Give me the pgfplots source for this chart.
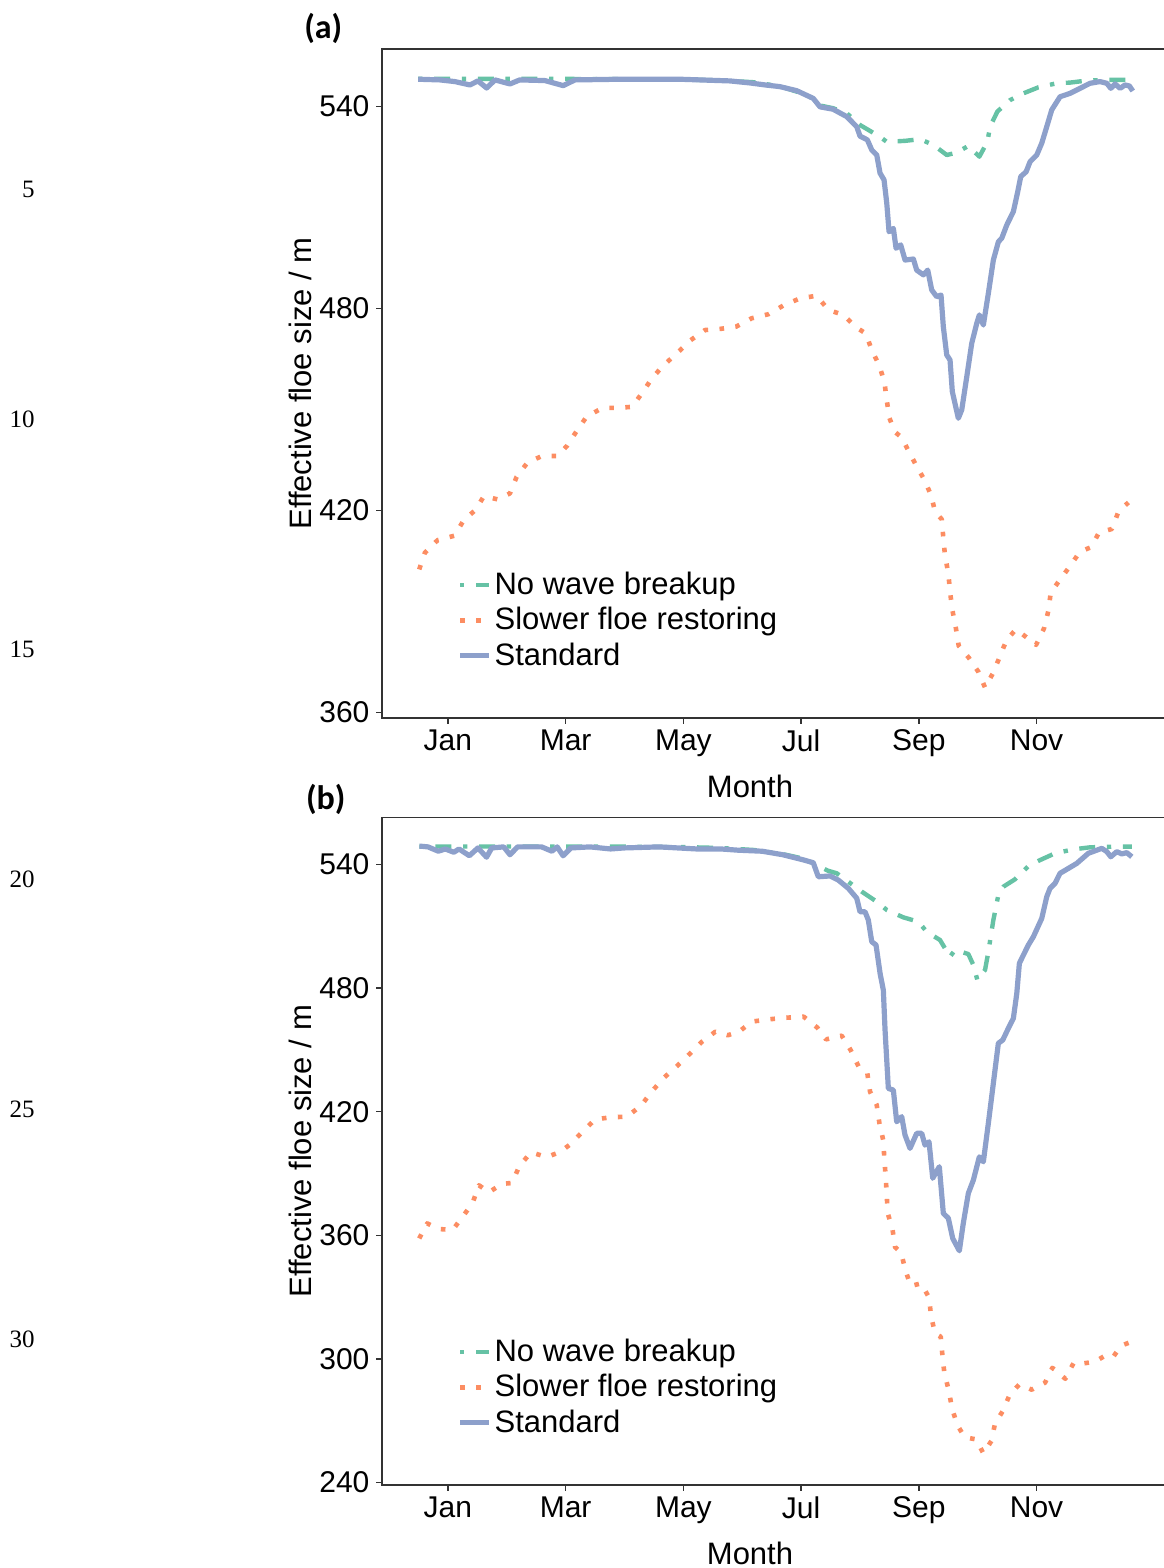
\documentclass[border=0pt]{standalone}
\usepackage{fontspec}
\setmainfont{Liberation Sans}
\newfontfamily\serifnum{Liberation Serif}
\newfontfamily\calib{Carlito}
\usepackage{pgfplots}
\pgfplotsset{compat=1.18}
\definecolor{cgreen}{HTML}{66C2A5}
\definecolor{corange}{HTML}{FC8D62}
\definecolor{cblue}{HTML}{8DA0CB}
\definecolor{spine}{HTML}{333333}
\newcommand\fsz{\fontsize{15}{18}\selectfont}
\newcommand\lsz{\fontsize{15.5}{18.5}\selectfont}
\newcommand\lstrut{\rule[-2pt]{0pt}{12pt}}
\pgfplotsset{
  panel/.style={
    scale only axis, width=393.5pt,
    xmin=-0.12, xmax=13.25,
    xtick={1,3,5,7,9,11}, xticklabels={Jan,Mar,May,Jul,Sep,Nov},
    axis line style={spine, line width=0.8pt},
    tick style={spine, line width=0.8pt},
    tick align=outside, major tick length=2.8pt, tick pos=left,
    /pgf/number format/assume math mode=true,
    tick label style={font=\fsz, text=black},
    yticklabel style={inner xsep=3.3pt},
    xticklabel style={inner ysep=2.7pt},
    label style={font=\lsz},
    xlabel=Month,
    xlabel style={at={(axis description cs:0.4676,0)}, anchor=base, yshift=-39.5pt},
    ylabel={Effective floe size / m},
    ylabel style={at={(axis description cs:-0.0902,0.5)}, anchor=base},
    title style={anchor=center, font=\calib\bfseries\fontsize{17}{20}\selectfont},
    legend cell align=left,
    legend image code/.code={\draw[#1] (0pt,0pt) -- (14.5pt,0pt);},
    every axis plot/.append style={line join=round},
  },
  gline/.style={cgreen, line width=2.2pt, dash pattern=on 2.2pt off 5.8pt on 8pt off 5.8pt},
  oline/.style={corange, line width=2.3pt, dash pattern=on 2.3pt off 5.7pt},
  bline/.style={cblue, line width=2.6pt},
}
\begin{document}
\begin{tikzpicture}
\useasboundingbox (0,0) rectangle (581.5pt,-784pt);
\foreach \n/\y in {5/189.5,10/419.5,15/649.5,20/879.5,25/1109.5,30/1339.5}
  \node[anchor=east, inner sep=0pt, font=\serifnum\fontsize{12.5}{15}\selectfont] at (17.5pt,{-\y*0.5pt}) {\n};

% ---------------- panel (a)
\begin{axis}[panel, at={(191pt,-359pt)}, anchor=south west, height=334.5pt,
  ymin=358.37, ymax=557.08, ytick={360,420,480,540},
  title={(a)}, title style={at={(axis description cs:-0.0746,1.0134)}},
  legend style={at={(axis description cs:0.0953,0.2182)}, anchor=north west, draw=none, fill=none,
    inner sep=0pt, row sep=4.8pt, column sep=1.5pt, font=\lsz, nodes={inner sep=0pt}},
]
\addplot[gline] coordinates {(0.495,548.2) (1.0,548.2) (2.0,548.2) (3.0,548.2) (4.0,548.1) (5.0,548.0) (5.6,547.8) (6.2,547.2) (6.641,546.0) (7.0,544.0) (7.207,542.4) (7.32,540.3) (7.542,539.5) (7.775,538.0) (8.001,534.5) (8.341,531.0) (8.455,529.5) (8.766,529.8) (9.021,530.3) (9.247,528.6) (9.474,525.6) (9.644,526.3) (9.841,528.3) (10.028,525.1) (10.164,529.5) (10.210,534.0) (10.334,538.5) (10.550,541.9) (10.776,543.9) (11.031,545.7) (11.343,546.9) (11.569,547.1) (11.853,547.7) (12.193,547.9) (12.419,547.9) (12.623,547.9)};
\addlegendentry{\lstrut No wave breakup}
\addplot[oline] coordinates {(0.512,402.5) (0.609,407.5) (0.825,411.2) (1.107,412.5) (1.272,417.2) (1.471,420.2) (1.612,424.3) (1.845,423.3) (2.054,425.1) (2.167,430.0) (2.354,434.3) (2.602,436.2) (2.864,436.2) (3.027,439.3) (3.187,443.6) (3.357,447.9) (3.629,450.5) (3.901,450.5) (4.127,450.8) (4.308,455.1) (4.478,459.6) (4.687,463.5) (4.903,466.9) (5.124,470.6) (5.367,473.6) (5.651,474.0) (5.894,474.6) (6.161,477.1) (6.443,478.3) (6.709,481.0) (6.981,483.0) (7.265,483.8) (7.462,479.6) (7.717,478.1) (7.945,474.3) (8.098,472.6) (8.200,467.7) (8.324,463.2) (8.414,458.3) (8.455,452.8) (8.499,447.5) (8.596,443.3) (8.709,441.7) (8.839,437.2) (8.952,433.5) (9.088,429.3) (9.202,424.8) (9.280,419.5) (9.389,417.4) (9.416,411.9) (9.445,406.5) (9.501,401.4) (9.530,395.9) (9.569,390.5) (9.627,385.3) (9.678,379.8) (9.848,376.3) (10.011,372.1) (10.125,367.4) (10.266,371.9) (10.380,376.8) (10.494,381.7) (10.652,384.7) (10.816,382.5) (10.992,380.1) (11.127,385.0) (11.200,390.2) (11.241,395.6) (11.387,399.2) (11.569,403.5) (11.739,407.8) (11.926,409.1) (12.062,413.5) (12.278,414.5) (12.390,419.6) (12.560,422.4)};
\addlegendentry{\lstrut Slower floe restoring}
\addplot[bline] coordinates {(0.495,548.1) (0.864,547.9) (1.119,547.4) (1.374,546.4) (1.51,547.6) (1.658,545.5) (1.80,547.9) (2.054,546.7) (2.22,547.9) (2.648,547.7) (2.959,546.2) (3.158,547.9) (3.923,548.1) (4.94,548.1) (5.28,547.9) (5.79,547.6) (6.13,547.0) (6.39,546.4) (6.641,545.9) (6.925,544.7) (7.207,542.4) (7.321,539.9) (7.542,539.2) (7.775,537.0) (7.945,534.0) (8.001,531.2) (8.125,530.1) (8.200,527.1) (8.285,525.6) (8.341,520.2) (8.409,518.2) (8.455,511.3) (8.494,502.8) (8.567,503.8) (8.613,497.9) (8.692,498.9) (8.766,494.4) (8.907,494.7) (8.964,491.4) (9.077,490.0) (9.151,491.4) (9.219,485.5) (9.304,483.5) (9.377,484.0) (9.416,474.6) (9.474,466.2) (9.530,464.7) (9.569,455.3) (9.627,450.8) (9.671,447.4) (9.729,449.9) (9.814,459.7) (9.899,469.7) (9.984,475.6) (10.028,478.1) (10.096,475.1) (10.181,484.5) (10.266,494.4) (10.351,499.8) (10.409,500.9) (10.494,504.8) (10.606,508.8) (10.674,514.2) (10.732,519.2) (10.822,520.6) (10.890,523.6) (11.003,525.6) (11.088,529.1) (11.173,534.0) (11.258,539.0) (11.399,542.9) (11.569,543.9) (11.739,545.4) (11.909,546.9) (12.079,547.4) (12.193,546.9) (12.261,545.4) (12.334,546.7) (12.419,545.4) (12.504,546.4) (12.577,546.1) (12.635,544.6)};
\addlegendentry{\lstrut Standard}
\end{axis}

% ---------------- panel (b)
\begin{axis}[panel, at={(191pt,-742.5pt)}, anchor=south west, height=333.75pt,
  ymin=238.84, ymax=562.76, ytick={240,300,360,420,480,540},
  title={(b)}, title style={at={(axis description cs:-0.0715,1.0098)}},
  legend style={at={(axis description cs:0.0953,0.2187)}, anchor=north west, draw=none, fill=none,
    inner sep=0pt, row sep=4.8pt, column sep=1.5pt, font=\lsz, nodes={inner sep=0pt}},
]
\addplot[gline] coordinates {(0.516,548.7) (1.0,548.7) (2.0,548.7) (3.0,548.6) (4.0,548.6) (5.0,548.4) (5.6,548.0) (6.2,547.0) (6.689,545.0) (7.039,542.8) (7.25,540.0) (7.45,537.0) (7.605,535.7) (7.802,531.6) (8.030,526.8) (8.285,521.9) (8.455,517.9) (8.737,514.3) (8.992,512.2) (9.134,507.3) (9.360,503.3) (9.530,495.2) (9.615,498.5) (9.841,496.5) (9.926,491.2) (9.994,483.9) (10.125,488.8) (10.181,497.6) (10.266,513.0) (10.351,525.2) (10.436,529.2) (10.635,532.8) (10.861,539.2) (11.060,542.1) (11.314,545.4) (11.625,547.3) (11.909,548.3) (12.305,548.6) (12.618,548.6)};
\addlegendentry{\lstrut No wave breakup}
\addplot[oline] coordinates {(0.512,358.5) (0.648,365.8) (0.835,363.1) (1.080,362.6) (1.260,369.4) (1.420,375.8) (1.527,384.3) (1.697,380.9) (1.918,385.0) (2.088,385.4) (2.212,393.5) (2.410,400.3) (2.677,398.0) (2.903,400.4) (3.061,403.8) (3.277,410.0) (3.503,416.3) (3.775,417.3) (4.042,417.6) (4.280,422.9) (4.466,429.9) (4.670,436.5) (4.886,442.0) (5.090,447.6) (5.304,453.7) (5.542,458.8) (5.753,457.1) (5.945,458.8) (6.161,463.7) (6.443,464.8) (6.743,465.6) (7.044,466.1) (7.275,460.8) (7.423,455.1) (7.690,456.9) (7.848,449.6) (7.979,441.8) (8.125,438.6) (8.171,429.7) (8.285,423.2) (8.329,414.6) (8.397,405.9) (8.414,397.0) (8.438,388.1) (8.455,379.2) (8.472,370.7) (8.553,362.9) (8.596,354.3) (8.698,351.7) (8.771,343.2) (8.862,335.4) (9.037,336.7) (9.173,329.9) (9.207,321.0) (9.275,312.4) (9.372,310.8) (9.399,302.2) (9.433,293.3) (9.508,284.8) (9.564,276.0) (9.654,267.9) (9.780,262.0) (9.972,261.0) (10.096,254.2) (10.232,260.2) (10.295,268.8) (10.426,274.7) (10.545,282.8) (10.708,287.7) (10.918,285.1) (11.144,288.5) (11.268,295.7) (11.489,290.4) (11.632,298.2) (11.807,297.9) (11.994,298.7) (12.181,301.9) (12.305,301.1) (12.431,306.4) (12.589,308.1)};
\addlegendentry{\lstrut Slower floe restoring}
\addplot[bline] coordinates {(0.516,548.9) (0.662,548.5) (0.837,546.4) (0.954,547.5) (1.100,545.9) (1.189,547.5) (1.364,544.2) (1.510,548.0) (1.656,543.5) (1.744,548.0) (1.948,548.5) (2.054,544.7) (2.183,548.5) (2.592,548.5) (2.767,546.4) (2.856,548.5) (2.956,544.2) (3.090,548.0) (3.411,548.5) (3.763,547.5) (3.997,548.0) (4.582,548.5) (5.226,547.5) (5.636,547.5) (5.928,546.9) (6.337,546.4) (6.689,544.7) (7.039,542.2) (7.207,540.8) (7.292,534.0) (7.491,534.4) (7.632,532.4) (7.802,528.4) (7.945,523.6) (8.001,517.0) (8.086,517.0) (8.142,513.0) (8.200,502.5) (8.273,500.9) (8.341,487.2) (8.397,479.0) (8.426,459.6) (8.482,431.3) (8.567,430.5) (8.624,415.1) (8.709,417.6) (8.765,408.7) (8.850,402.2) (8.964,409.5) (9.049,409.5) (9.105,403.8) (9.173,405.4) (9.236,387.7) (9.348,393.3) (9.416,370.7) (9.501,368.3) (9.576,358.5) (9.688,352.5) (9.755,365.8) (9.841,380.4) (9.926,386.8) (10.028,398.1) (10.096,395.7) (10.181,414.4) (10.266,433.8) (10.351,453.2) (10.426,454.8) (10.521,460.5) (10.606,465.3) (10.664,477.4) (10.708,492.0) (10.776,496.0) (10.861,500.9) (10.946,504.9) (11.088,513.8) (11.173,524.3) (11.229,528.4) (11.314,530.8) (11.399,535.7) (11.513,537.6) (11.683,540.5) (11.880,545.4) (12.108,547.8) (12.193,546.2) (12.261,543.7) (12.363,546.2) (12.448,545.1) (12.533,545.7) (12.618,543.7)};
\addlegendentry{\lstrut Standard}
\end{axis}
\end{tikzpicture}
\end{document}
